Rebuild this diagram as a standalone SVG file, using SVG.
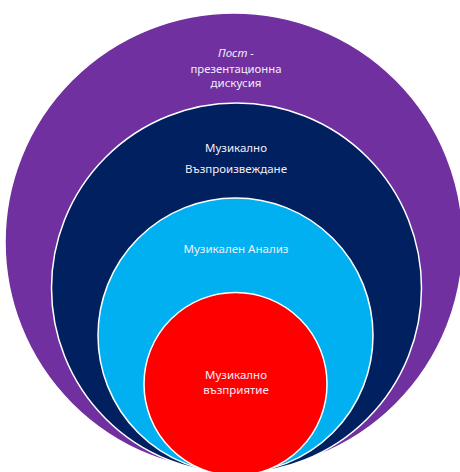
<svg xmlns="http://www.w3.org/2000/svg" width="460" height="472" viewBox="0 0 460 472">
<style>
.ring{stroke:#ffffff;stroke-width:1.5}
.t{font-family:"Noto Sans","Liberation Sans",sans-serif;font-size:11.5px;fill:#f2eef8;text-anchor:middle}
</style>
<rect width="460" height="472" fill="#ffffff"/>
<g id="node-post">
<circle class="ring" cx="234" cy="242" r="229" fill="#7030a0"/>
<text class="t" x="236" y="57" font-style="italic">Пост -</text>
<text class="t" x="236" y="73" textLength="91" lengthAdjust="spacingAndGlyphs">презентационна</text>
<text class="t" x="236" y="87">дискусия</text>
</g>
<g id="node-reproduction">
<circle class="ring" cx="236.5" cy="288" r="185" fill="#002060"/>
<text class="t" x="236" y="152">Музикално</text>
<text class="t" x="236" y="173" textLength="102" lengthAdjust="spacingAndGlyphs">Възпроизвеждане</text>
</g>
<g id="node-analysis">
<circle class="ring" cx="235.5" cy="335.5" r="137.5" fill="#00b0f0"/>
<text class="t" x="236" y="253" textLength="105" lengthAdjust="spacingAndGlyphs">Музикален Анализ</text>
</g>
<g id="node-perception">
<circle class="ring" cx="235.5" cy="384" r="91.5" fill="#ff0000"/>
<text class="t" x="236" y="379">Музикално</text>
<text class="t" x="236" y="394">възприятие</text>
</g>
<g id="connectors"></g>
</svg>
